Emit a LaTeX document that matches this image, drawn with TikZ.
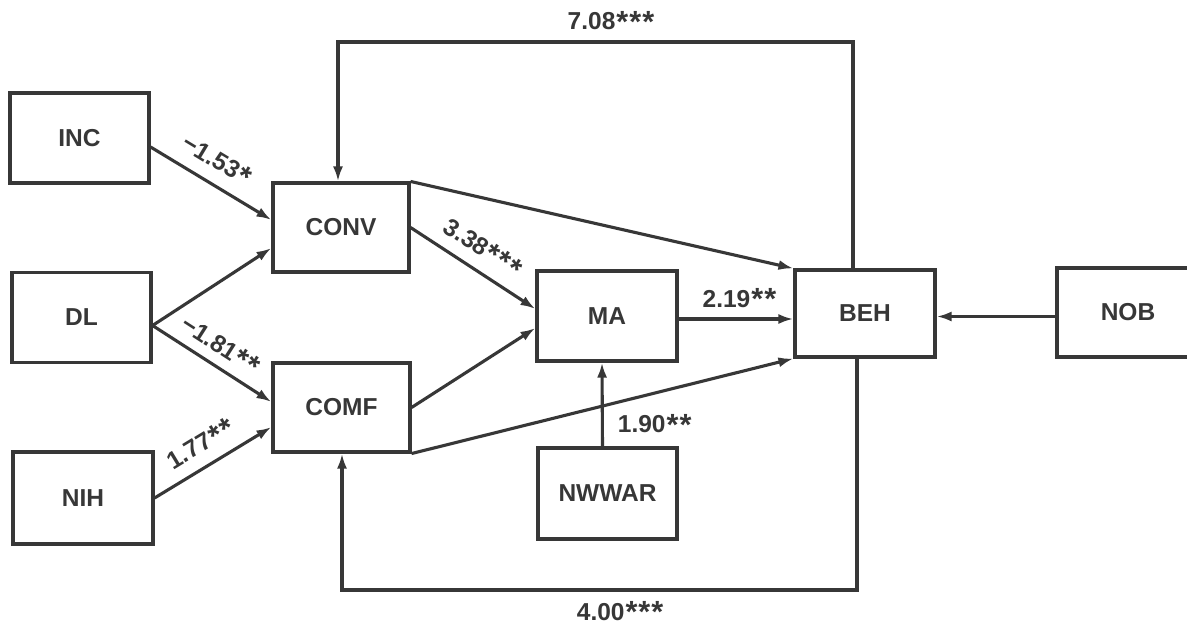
\documentclass[tikz,border=0pt]{standalone}
\usepackage{fontspec}
\setmainfont{Liberation Sans}
\usetikzlibrary{arrows.meta,calc}
\definecolor{ink}{RGB}{55,55,55}
\newcommand\sigstar{\kern1pt\raisebox{-0.1em}{\scalebox{1.25}{*}}}
\begin{document}
\begin{tikzpicture}[x=1pt,y=-1pt,
  box/.style={draw=ink, line width=3.1pt, minimum width=139pt, minimum height=90pt, inner sep=0pt, text=ink, font=\fontsize{24.5}{28}\selectfont\bfseries},
  arr/.style={draw=ink, line width=3.1pt, -{Latex[length=15pt,width=10pt]}},
  lab/.style={text=ink, inner sep=0pt, font=\fontsize{24.5}{28}\selectfont\bfseries}]
\useasboundingbox (0,0) rectangle (1187,621);
\fill[white] (0,0) rectangle (1187,621);

\node[box] (INC) at (79.5,138) {INC};
\node[box] (DL) at (81.5,317.5) {DL};
\node[box, minimum width=140pt, minimum height=92pt] (NIH) at (83,498) {NIH};
\node[box, minimum width=136pt, minimum height=89pt] (CONV) at (341,227.5) {CONV};
\node[box, minimum width=137pt, minimum height=89pt] (COMF) at (341.5,407.5) {COMF};
\node[box, minimum width=140pt] (MA) at (607,316) {MA};
\node[box, minimum height=91pt] (NWWAR) at (607.5,493.5) {NWWAR};
\node[box, minimum width=140pt, minimum height=87pt] (BEH) at (865,313.5) {BEH};
\node[box, minimum width=142pt, minimum height=89pt] (NOB) at (1128,312.5) {NOB};

\coordinate (incout) at ($(INC.east)+(0,9)$);
\coordinate (dlout) at ($(DL.east)+(0,8)$);
\coordinate (convin1) at ($(CONV.west)+(0,-7.5)$);
\coordinate (convin2) at ($(CONV.west)+(0,20.5)$);
\coordinate (comfin1) at ($(COMF.west)+(0,-5.5)$);
\coordinate (comfin2) at ($(COMF.west)+(0,19.5)$);
\coordinate (main1) at ($(MA.west)+(0,-7)$);
\coordinate (main2) at ($(MA.west)+(0,12)$);
\coordinate (maout) at ($(MA.east)+(0,3)$);
\coordinate (nwout) at ($(NWWAR.north)+(-5,0)$);
\coordinate (nwin) at ($(MA.south)+(-5,0)$);
\coordinate (nobout) at ($(NOB.west)+(0,4)$);

\draw[arr] (incout) -- node[lab, sloped, above=11pt, pos=0.45]{−1.53\sigstar} (convin1);
\draw[arr] (dlout) -- (convin2);
\draw[arr] (dlout) -- node[lab, sloped, above=8pt, pos=0.48]{−1.81\sigstar\sigstar} (comfin1);
\draw[arr] (NIH.east) -- node[lab, sloped, above=10pt, pos=0.49]{1.77\sigstar\sigstar} (comfin2);
\draw[arr] (CONV.east) -- node[lab, sloped, above=10pt, pos=0.48]{3.38\sigstar\sigstar\sigstar} (main1);
\draw[arr] (COMF.east) -- (main2);
\draw[arr] (CONV.north east) -- (BEH.north west);
\draw[arr] (COMF.south east) -- (BEH.south west);
\draw[arr] (maout) -- node[lab, above=8pt, pos=0.53]{2.19\sigstar\sigstar} (maout -| BEH.west);
\draw[arr] (nwout) -- node[lab, right=14pt, pos=0.26]{1.90\sigstar\sigstar} (nwin);
\draw[arr] (nobout) -- (nobout -| BEH.east);

\coordinate (tr) at (853,42);
\coordinate (tl) at (338,42);
\draw[arr] (tr |- BEH.north) -- (tr) -- node[lab, above=8pt, pos=0.47]{7.08\sigstar\sigstar\sigstar} (tl) -- (tl |- CONV.north);
\coordinate (br) at (857,590);
\coordinate (bl) at (342,590);
\draw[arr] (br |- BEH.south) -- (br) -- node[lab, below=10pt, pos=0.46]{4.00\sigstar\sigstar\sigstar} (bl) -- (bl |- COMF.south);
\end{tikzpicture}
\end{document}
